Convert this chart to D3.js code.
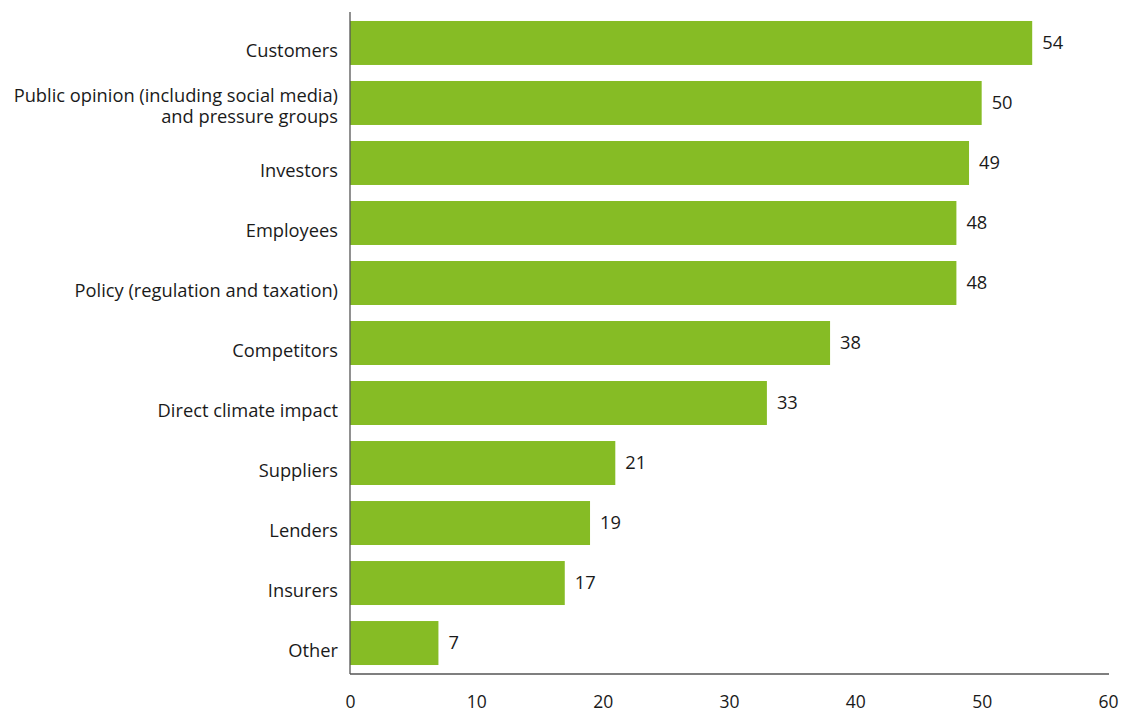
<!DOCTYPE html>
<html>
<head>
<meta charset="utf-8">
<script src="https://cdn.jsdelivr.net/npm/d3@7"></script>
<style>
  html, body { margin: 0; padding: 0; background: #fff; }
  svg { display: block; font-family: "Open Sans", sans-serif; }
</style>
</head>
<body>
<svg id="chart" width="1122" height="713"></svg>
<script>
// Categories (top to bottom) and their values
const categories = [
  ["Customers"],
  ["Public opinion (including social media)", "and pressure groups"],
  ["Investors"],
  ["Employees"],
  ["Policy (regulation and taxation)"],
  ["Competitors"],
  ["Direct climate impact"],
  ["Suppliers"],
  ["Lenders"],
  ["Insurers"],
  ["Other"]
];
const values = [54, 50, 49, 48, 48, 38, 33, 21, 19, 17, 7];
const xTicks = [0, 10, 20, 30, 40, 50, 60];

const svg = d3.select("#chart");
const plotLeft = 350, plotRight = 1108, plotTop = 13, plotBottom = 673;
const axisY = 674;
const fontSize = 18.3;

const x = d3.scaleLinear().domain([0, 60]).range([plotLeft, plotRight]);
const keys = categories.map((c, i) => i);
const y = d3.scaleBand().domain(keys).range([plotTop, plotBottom])
  .paddingInner(0.267).paddingOuter(0.133);

// Bars
svg.append("g").selectAll("rect").data(values).join("rect")
  .attr("x", x(0))
  .attr("y", (d, i) => y(i))
  .attr("width", d => x(d) - x(0))
  .attr("height", y.bandwidth())
  .attr("fill", "#86bc25");

// Value labels
svg.append("g").selectAll("text").data(values).join("text")
  .attr("x", d => x(d) + 10)
  .attr("y", (d, i) => y(i) + y.bandwidth() / 2)
  .attr("dy", "0.35em")
  .attr("font-size", fontSize)
  .attr("fill", "#1a1a1a")
  .text(d => d);

// Category labels (possibly two lines), baselines sit slightly below bar centre
const lineH = 21.5;
const lab = svg.append("g").selectAll("text").data(categories).join("text")
  .attr("text-anchor", "end")
  .attr("font-size", fontSize)
  .attr("fill", "#1a1a1a");
lab.each(function(lines, i) {
  const t = d3.select(this);
  const c = y(i) + y.bandwidth() / 2;
  const base = lines.length > 1 ? c - 1.3 : c + 13.7;
  lines.forEach((ln, j) => {
    t.append("tspan")
      .attr("x", plotLeft - 12)
      .attr("y", base + j * lineH)
      .text(ln);
  });
});

// Axes
const xAxis = d3.axisBottom(x).tickValues(xTicks).tickSize(0).tickPadding(22);
const gx = svg.append("g").attr("transform", `translate(0,${axisY})`).call(xAxis);
gx.select(".domain").attr("stroke", "#555").attr("stroke-width", 1.3)
  .attr("d", `M${plotLeft},0H${plotRight + 1}`);
gx.selectAll("text").attr("font-size", 17.5).attr("fill", "#1a1a1a")
  .attr("font-family", "Open Sans, sans-serif");

svg.append("line")
  .attr("x1", plotLeft).attr("x2", plotLeft)
  .attr("y1", 12).attr("y2", axisY)
  .attr("stroke", "#555").attr("stroke-width", 1.3);
</script>
</body>
</html>
